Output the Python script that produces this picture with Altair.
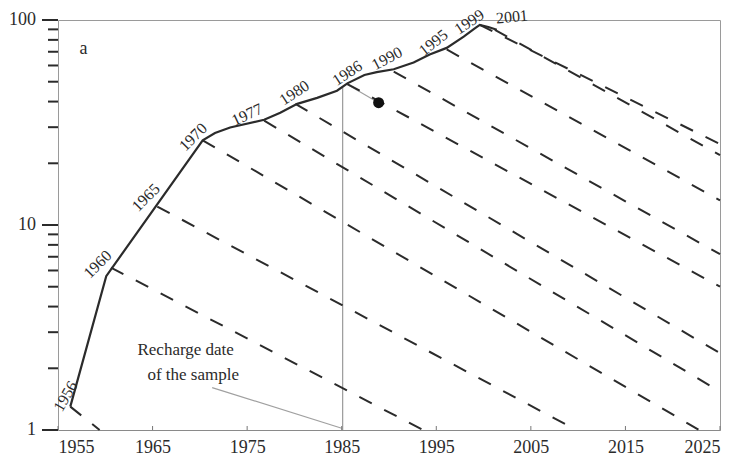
import altair as alt
import pandas as pd

# ---- solid input curve (year, tritium value) ----
curve_year = [1956.3, 1960.1, 1970.3, 1971.6, 1973.2, 1976.8, 1978.5, 1980.3, 1982.4,
              1984.5, 1985.6, 1987.4, 1988.7, 1990.5, 1992.6, 1994.3, 1996.1, 1997.9,
              1999.0, 1999.6, 2000.5, 2001.4]
curve_value = [1.30, 5.63, 25.9, 28.1, 29.9, 32.6, 35.3, 39.0, 41.7,
               45.2, 49.1, 53.9, 55.7, 57.5, 62.0, 67.9, 73.1, 83.0,
               90.5, 94.6, 92.5, 89.6]

# ---- dashed decay lines ----
decay_name = ["1956", "1960", "1965", "1970", "1977", "1980", "1986", "1990", "1995", "1999", "2001"]
decay_start_year = [1956.3, 1960.6, 1965.5, 1970.3, 1976.8, 1980.1, 1985.6, 1990.5, 1996.1, 1999.6, 2001.2]
decay_start_value = [1.30, 6.2, 12.3, 25.9, 32.3, 39.0, 48.7, 56.0, 71.8, 94.6, 89.6]
decay_end_year = [1959.4, 1993.6, 2009.8, 2022.8, 2025, 2025, 2025, 2025, 2025, 2025, 2025]
decay_end_value = [1.0, 1.0, 1.0, 1.0, 1.54, 2.37, 5.0, 7.2, 13.2, 24.8, 21.9]

# ---- year labels along the curve ----
label_text = ["1956", "1960", "1965", "1970", "1977", "1980", "1986", "1990", "1995", "1999", "2001"]
label_year = [1955.8, 1959.2, 1964.3, 1969.3, 1975.0, 1980.0, 1985.6, 1989.8, 1994.7, 1998.5, 2003.0]
label_value = [1.46, 6.42, 13.6, 26.8, 34.5, 44.1, 55.0, 64.9, 77.5, 97.8, 103.4]
label_angle = [-60, -45, -45, -45, -25, -33, -33, -28, -38, -33, -5]

# ---- sample ----
sample_year = [1988.9]
sample_value = [39.5]
link_year = [1985.6, 1988.9]
link_value = [48.5, 39.5]
recharge_year = [1985.1, 1985.1]
recharge_value = [47.5, 1.0]
pointer_year = [1971.3, 1985.0]
pointer_value = [1.61, 1.02]
note_lines = ["Recharge date", "of the sample"]
note_year = [1968.5, 1969.3]
note_value = [2.45, 1.86]
panel_text = ["a"]
panel_year = [1957.7]
panel_value = [71.8]

x_ticks = [1955, 1965, 1975, 1985, 1995, 2005, 2015, 2025]
y_labels = [1, 10, 100]
y_label_text = ["1", "10", "100"]
y_minor = [2, 3, 4, 5, 6, 7, 8, 9, 20, 30, 40, 50, 60, 70, 80, 90]
y_major = [1, 10, 100]

W, H = 662, 410
FONT = "Liberation Serif"
INK = "#2b2b2b"

xs = alt.Scale(domain=[1955, 2025], nice=False, zero=False)
ys = alt.Scale(type="log", domain=[1, 100], nice=False)

x_axis = alt.Axis(values=x_ticks, format="d", title=None, ticks=False, labelFont=FONT,
                  labelFontSize=18, labelColor=INK, labelPadding=8, domainColor="#8a8a8a",
                  domainWidth=1, grid=False)

X = alt.X("year:Q", scale=xs, axis=x_axis)
Y = alt.Y("value:Q", scale=ys, axis=None)

curve_df = pd.DataFrame({"year": curve_year, "value": curve_value})
rows = []
for n, sy, sv, ey, ev in zip(decay_name, decay_start_year, decay_start_value, decay_end_year, decay_end_value):
    rows.append({"line": n, "order": 0, "year": sy, "value": sv})
    rows.append({"line": n, "order": 1, "year": ey, "value": ev})
decay_df = pd.DataFrame(rows)
label_df = pd.DataFrame({"text": label_text, "year": label_year, "value": label_value,
                         "angle": [a % 360 for a in label_angle]})

curve = alt.Chart(curve_df).mark_line(color=INK, strokeWidth=2.2).encode(x=X, y=Y)

decay = alt.Chart(decay_df).mark_line(color=INK, strokeWidth=2, strokeDash=[14, 14]).encode(
    x=X, y=Y, detail="line:N", order="order:Q")

labels = alt.Chart(label_df).mark_text(font=FONT, fontSize=16, color=INK, align="center",
                                       baseline="middle").encode(
    x=X, y=Y, text="text:N", angle=alt.Angle("angle:Q", scale=None))

recharge = alt.Chart(pd.DataFrame({"year": recharge_year, "value": recharge_value})).mark_line(
    color="#9a9a9a", strokeWidth=1.2).encode(x=X, y=Y)

link = alt.Chart(pd.DataFrame({"year": link_year, "value": link_value})).mark_line(
    color="#a0a0a0", strokeWidth=1.2).encode(x=X, y=Y)

pointer = alt.Chart(pd.DataFrame({"year": pointer_year, "value": pointer_value})).mark_line(
    color="#a0a0a0", strokeWidth=1.2).encode(x=X, y=Y)

dot = alt.Chart(pd.DataFrame({"year": sample_year, "value": sample_value})).mark_circle(
    color="#111111", opacity=1, size=120).encode(x=X, y=Y)

note = alt.Chart(pd.DataFrame({"text": note_lines, "year": note_year, "value": note_value})).mark_text(
    font=FONT, fontSize=17, color=INK, align="center", baseline="middle").encode(x=X, y=Y, text="text:N")

panel = alt.Chart(pd.DataFrame({"text": panel_text, "year": panel_year, "value": panel_value})).mark_text(
    font=FONT, fontSize=18, color=INK, align="center", baseline="middle").encode(x=X, y=Y, text="text:N")

xtick_marks = alt.Chart(pd.DataFrame({"year": x_ticks})).mark_rule(color="#777777", strokeWidth=1).encode(
    x=X, y=alt.value(H), y2=alt.value(H - 4))

ymajor_marks = alt.Chart(pd.DataFrame({"tick": y_major})).mark_rule(color=INK, strokeWidth=2).encode(
    y=alt.Y("tick:Q", scale=ys, axis=None), x=alt.value(-16), x2=alt.value(0))

yminor_marks = alt.Chart(pd.DataFrame({"mtick": y_minor})).mark_rule(color=INK, strokeWidth=2).encode(
    y=alt.Y("mtick:Q", scale=ys, axis=None), x=alt.value(-10), x2=alt.value(0))

ylabel_marks = alt.Chart(pd.DataFrame({"lpos": y_labels, "lab": y_label_text})).mark_text(
    font=FONT, fontSize=18, color=INK, align="right", baseline="middle").encode(
    y=alt.Y("lpos:Q", scale=ys, axis=None), x=alt.value(-22), text="lab:N")

chart = alt.layer(
    recharge, pointer, link, decay, curve, labels, dot, note, panel, xtick_marks,
    ymajor_marks, yminor_marks, ylabel_marks
).properties(
    width=W, height=H,
    autosize=alt.AutoSizeParams(type="none"),
    padding={"left": 50, "top": 12, "right": 19, "bottom": 32},
    background="white",
).configure_view(stroke="#9a9a9a", strokeWidth=1)

chart.save("out.html", embed_options={"renderer": "svg", "actions": False})
